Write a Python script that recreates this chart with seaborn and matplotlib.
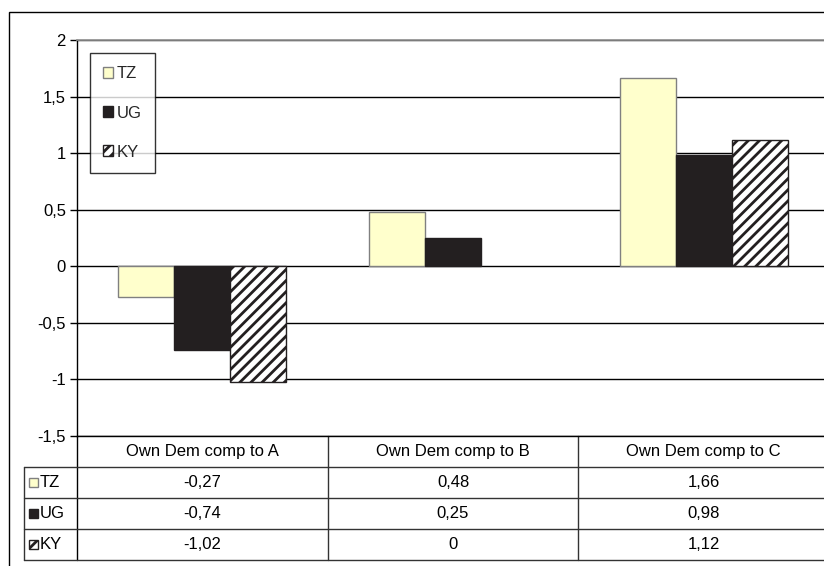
import matplotlib

matplotlib.use("Agg")
import matplotlib.pyplot as plt
import matplotlib.transforms as mtransforms
import pandas as pd
import seaborn as sns
from matplotlib.patches import Patch, Rectangle
from matplotlib.ticker import FuncFormatter

CATEGORIES = ["Own Dem comp to A", "Own Dem comp to B", "Own Dem comp to C"]
SERIES = ["TZ", "UG", "KY"]
TZ_VALUES = [-0.27, 0.48, 1.66]
UG_VALUES = [-0.74, 0.25, 0.98]
KY_VALUES = [-1.02, 0.0, 1.12]
Y_TICKS = [-1.5, -1, -0.5, 0, 0.5, 1, 1.5, 2]

FILLS = {"TZ": "#FFFFCC", "UG": "#231F20", "KY": "white"}
EDGES = {"TZ": "#808080", "UG": "#231F20", "KY": "#231F20"}
HATCHES = {"TZ": "", "UG": "", "KY": "///"}

W, H = 824, 566
AX_LEFT, AX_RIGHT, AX_TOP, AX_BOTTOM = 77, 829, 40, 436
ROW_PX = 31
LINE_COLOR = "#333333"
FONT_SIZE = 12


def comma(v, _pos=None):
    return f"{v:g}".replace(".", ",")


def main() -> None:
    sns.set_theme(style="white")
    plt.rcParams["font.family"] = ["Liberation Sans", "DejaVu Sans"]
    plt.rcParams["hatch.linewidth"] = 2.0
    plt.rcParams["hatch.color"] = "#231F20"

    values = {"TZ": TZ_VALUES, "UG": UG_VALUES, "KY": KY_VALUES}
    df = pd.DataFrame(
        [(c, s, values[s][i]) for s in SERIES for i, c in enumerate(CATEGORIES)],
        columns=["category", "series", "value"],
    )

    fig = plt.figure(figsize=(W / 100, H / 100), dpi=100)
    ax = fig.add_axes([
        AX_LEFT / W,
        (H - AX_BOTTOM) / H,
        (AX_RIGHT - AX_LEFT) / W,
        (AX_BOTTOM - AX_TOP) / H,
    ])

    sns.barplot(
        data=df, x="category", y="value", hue="series",
        order=CATEGORIES, hue_order=SERIES, palette=FILLS, saturation=1,
        width=0.67, errorbar=None, legend=False, ax=ax,
    )
    for name, cont in zip(SERIES, ax.containers):
        for bar in cont:
            bar.set_edgecolor(EDGES[name])
            bar.set_linewidth(1)
            bar.set_hatch(HATCHES[name])
            if bar.get_height() == 0:
                bar.set_visible(False)

    ax.set_xlim(-0.5, 2.5)
    ax.set_ylim(-1.5, 2)
    ax.set_yticks(Y_TICKS)
    ax.yaxis.set_major_formatter(FuncFormatter(comma))
    ax.set_xticks([])
    ax.set_xlabel("")
    ax.set_ylabel("")
    ax.tick_params(axis="y", direction="out", length=5, width=1, color="black",
                   pad=3, labelsize=FONT_SIZE, labelcolor="black", left=True)
    ax.yaxis.grid(True, color="black", linewidth=1)
    ax.set_axisbelow(True)
    for side in ["left", "bottom"]:
        ax.spines[side].set_color("black")
        ax.spines[side].set_linewidth(1)
    ax.spines["top"].set_color("#909090")
    ax.spines["right"].set_visible(False)

    # legend
    handles = [Patch(facecolor=FILLS[s], edgecolor=EDGES[s], hatch=HATCHES[s], label=s)
               for s in SERIES]
    leg = ax.legend(
        handles=handles, loc="upper left", bbox_to_anchor=(13 / 752, (436 - 53) / 396),
        borderaxespad=0, frameon=True, fancybox=False, fontsize=FONT_SIZE,
        handlelength=0.6, handleheight=0.6, handletextpad=0.2,
        labelspacing=1.45, borderpad=0.8,
    )
    leg.get_frame().set_edgecolor("black")
    leg.get_frame().set_linewidth(1)

    # data table below the plot
    row_h = ROW_PX / (AX_BOTTOM - AX_TOP)
    trans = mtransforms.blended_transform_factory(ax.transData, ax.transAxes)
    cat_w = (AX_RIGHT - AX_LEFT) / len(CATEGORIES)
    label_left = -0.5 - (AX_LEFT - 24) / cat_w
    n_rows = len(SERIES)
    bottom = -(n_rows + 1) * row_h

    ax.plot([-0.5, -0.5], [0, bottom], transform=trans, color="black", lw=1, clip_on=False)
    for i in range(1, len(CATEGORIES)):
        ax.plot([i - 0.5, i - 0.5], [0, bottom], transform=trans, color=LINE_COLOR,
                lw=1, clip_on=False)
    ax.plot([label_left, label_left], [-row_h, bottom], transform=trans,
            color=LINE_COLOR, lw=1, clip_on=False)
    for r in range(1, n_rows + 2):
        ax.plot([label_left, 2.6], [-r * row_h, -r * row_h], transform=trans,
                color=LINE_COLOR, lw=1, clip_on=False)

    for i, c in enumerate(CATEGORIES):
        ax.text(i, -0.5 * row_h, c, transform=trans, ha="center", va="center",
                fontsize=FONT_SIZE, color="black")
    for r, s in enumerate(SERIES):
        y = -(r + 1.5) * row_h
        for i, v in enumerate(values[s]):
            ax.text(i, y, comma(v), transform=trans, ha="center", va="center",
                    fontsize=FONT_SIZE, color="black")
        key_w = 9 / cat_w
        key_h = 9 / (AX_BOTTOM - AX_TOP)
        ax.add_patch(Rectangle((label_left + 5 / cat_w, y - key_h / 2), key_w, key_h,
                               transform=trans, facecolor=FILLS[s], edgecolor=EDGES[s],
                               hatch=HATCHES[s], lw=1, clip_on=False))
        ax.text(label_left + 16 / cat_w, y, s, transform=trans, ha="left", va="center",
                fontsize=FONT_SIZE, color="black")

    # outer chart border
    fig.add_artist(Rectangle((9 / W, -0.01), 1.0, (H - 12) / H + 0.01,
                             transform=fig.transFigure, fill=False,
                             edgecolor="black", linewidth=1))

    fig.savefig("out.png", dpi=100)


if __name__ == "__main__":
    main()
